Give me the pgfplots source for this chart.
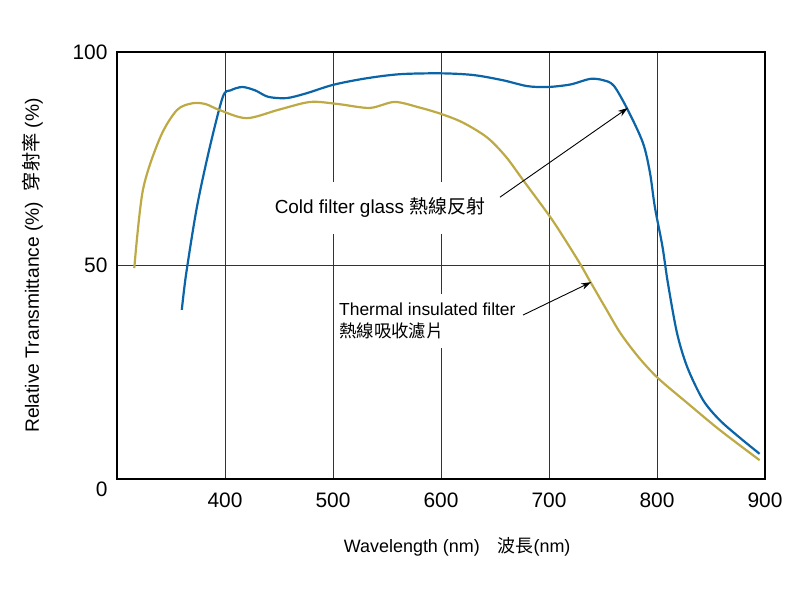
\documentclass[border=0pt]{standalone}
\usepackage{fontspec}
\setmainfont{Liberation Sans}
\newfontfamily\cjk{Noto Sans CJK TC}
\usepackage{pgfplots}
\pgfplotsset{compat=1.18}
\usetikzlibrary{arrows.meta}
\definecolor{coldblue}{RGB}{10,100,168}
\definecolor{olivecurve}{RGB}{190,170,68}

\begin{document}
\begin{tikzpicture}[x=1bp,y=1bp]
\path[use as bounding box] (0,0) rectangle (800,600);
\begin{axis}[
    at={(117bp,121bp)}, anchor=south west,
    scale only axis, width=648bp, height=427bp,
    xmin=300, xmax=900, ymin=0, ymax=100,
    xtick={400,500,...,900}, ytick={0,50,100},
    yticklabels={\smash{\raisebox{-18bp}{0}},50,100},
    major tick length=0pt,
    grid=major,
    grid style={black!80, line width=0.7bp},
    axis line style={black, line width=1.6bp},
    /pgf/number format/assume math mode=true,
    ticklabel style={font=\fontsize{21}{21}\selectfont},
    xticklabel style={yshift=-10bp},
    yticklabel style={xshift=-6bp},
    xlabel={Wavelength (nm)\quad {\cjk 波長}(nm)},
    ylabel={Relative Transmittance (\%)\ \ {\cjk 穿射率} (\%)},
    xlabel style={font=\fontsize{18}{18}\selectfont,
      at={(axis description cs:0.525,-0.159)}, anchor=center},
    ylabel style={font=\fontsize{19.3}{19.3}\selectfont,
      at={(axis description cs:-0.13,0.5)}, anchor=center},
]
\addplot[coldblue, line width=2.2bp, smooth] coordinates {
(360,39.6)(364,48)(374,63.7)(386,77.8)(398,89.5)(405,91)(416,91.8)(428,91)
(440,89.5)(457,89.2)(475,90.3)(500,92.3)(530,93.8)(562,94.8)(600,95.0)(630,94.6)
(657,93.4)(680,92)(699,91.8)(720,92.4)(738,93.7)(750,93.4)(760,92.1)(773,86.4)
(787,78.7)(793.5,71.7)(798,63.7)(805,54.5)(810,46)(818.5,34.2)(828,26.2)
(842.6,18.5)(858,13.8)(877,9.6)(895,5.9)};
\addplot[olivecurve, line width=2.2bp, smooth] coordinates {
(316,49.4)(324,67.7)(340,80)(355.5,86.4)(370,88)(382,87.8)(395,86.4)(420,84.5)
(450,86.5)(479,88.3)(505,87.8)(534,86.9)(557,88.3)(580,87)(600,85.5)(620,83.5)
(642.6,80)(660,75.5)(676,70)(701,61.4)(715,56)(729,50.3)(738,46.3)(752,40.2)
(766,34.2)(783,28.5)(801,23.6)(828,17.8)(858,11.5)(895,4.4)};

\node[fill=white, inner xsep=2bp, inner ysep=16bp, font=\fontsize{19}{19}\selectfont]
  at (axis cs:543.5,63.5) {Cold filter glass {\cjk 熱線反射}};
\node[fill=white, inner xsep=1bp, inner ysep=9bp, anchor=west, align=left,
  font=\fontsize{17.5}{22}\selectfont]
  at (axis cs:504.6,37) {Thermal insulated filter\\{\cjk 熱線吸收濾片}};
\draw[-{Stealth[length=10bp,width=6.5bp]}, line width=0.9bp] (axis cs:654.6,66) -- (axis cs:773,86.9);
\draw[-{Stealth[length=10bp,width=6.5bp]}, line width=0.9bp] (axis cs:676,38.4) -- (axis cs:739,46.1);
\end{axis}
\end{tikzpicture}
\end{document}
